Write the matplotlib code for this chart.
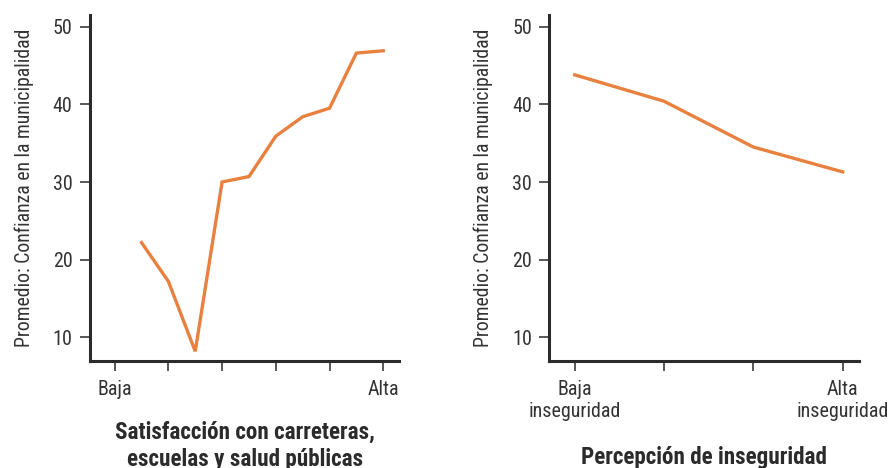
import matplotlib
matplotlib.use("Agg")
import matplotlib.pyplot as plt

plt.rcParams['font.family'] = ['Roboto Condensed', 'DejaVu Sans']

# Data
sat_x = [0.5, 1, 1.5, 2, 2.5, 3, 3.5, 4, 4.5, 5]
sat_y = [22.2, 17.2, 8.2, 30.0, 30.7, 35.9, 38.4, 39.5, 46.6, 46.9]
sat_ticks = [0, 1, 2, 3, 4, 5]
sat_labels = ["Baja", "", "", "", "", "Alta"]

ins_x = [0, 1, 2, 3]
ins_y = [43.8, 40.4, 34.5, 31.3]
ins_labels = ["Baja\ninseguridad", "", "", "Alta\ninseguridad"]

yticks = [10, 20, 30, 40, 50]
ylabel = "Promedio: Confianza en la municipalidad"
xlabel_left = "Satisfacción con carreteras,\nescuelas y salud públicas"
xlabel_right = "Percepción de inseguridad"

orange = "#E8813F"
dark = "#2b2b2b"
textc = "#333333"

fig = plt.figure(figsize=(8.89, 4.68), dpi=100)
ax1 = fig.add_axes([0.1012, 0.2286, 0.3480, 0.7393])
ax2 = fig.add_axes([0.6179, 0.2286, 0.3487, 0.7393])

def style(ax):
    for s in ["top", "right"]:
        ax.spines[s].set_visible(False)
    for s in ["left", "bottom"]:
        ax.spines[s].set_linewidth(2.2)
        ax.spines[s].set_color(dark)
    ax.set_ylim(6.95, 51.5)
    ax.set_yticks(yticks)
    ax.tick_params(axis="both", direction="out", length=7.5, width=1.1,
                   color=dark, labelsize=14.4, labelcolor=textc)
    ax.tick_params(axis="x", pad=6)
    ax.tick_params(axis="y", pad=5)
    ax.set_ylabel(ylabel, fontsize=14.2, color=textc, va="center", ha="center")
    ax.yaxis.set_label_coords(-0.212, 0.5)

ax1.plot(sat_x, sat_y, color=orange, lw=2.4, solid_joinstyle="miter")
style(ax1)
ax1.set_xlim(-0.46, 5.30)
ax1.set_xticks(sat_ticks)
ax1.set_xticklabels(sat_labels)
ax1.set_xlabel(xlabel_left, fontsize=16.7, fontweight="bold", color=dark,
               linespacing=1.25, va="baseline")
ax1.xaxis.set_label_coords(0.5, -0.304)

ax2.plot(ins_x, ins_y, color=orange, lw=2.4)
style(ax2)
ax2.set_xlim(-0.284, 3.186)
ax2.set_xticks(ins_x)
ax2.set_xticklabels(ins_labels, linespacing=1.2)
ax2.set_xlabel(xlabel_right, fontsize=16.7, fontweight="bold", color=dark,
               va="baseline")
ax2.xaxis.set_label_coords(0.5, -0.298)

fig.savefig("out.png", dpi=100)
